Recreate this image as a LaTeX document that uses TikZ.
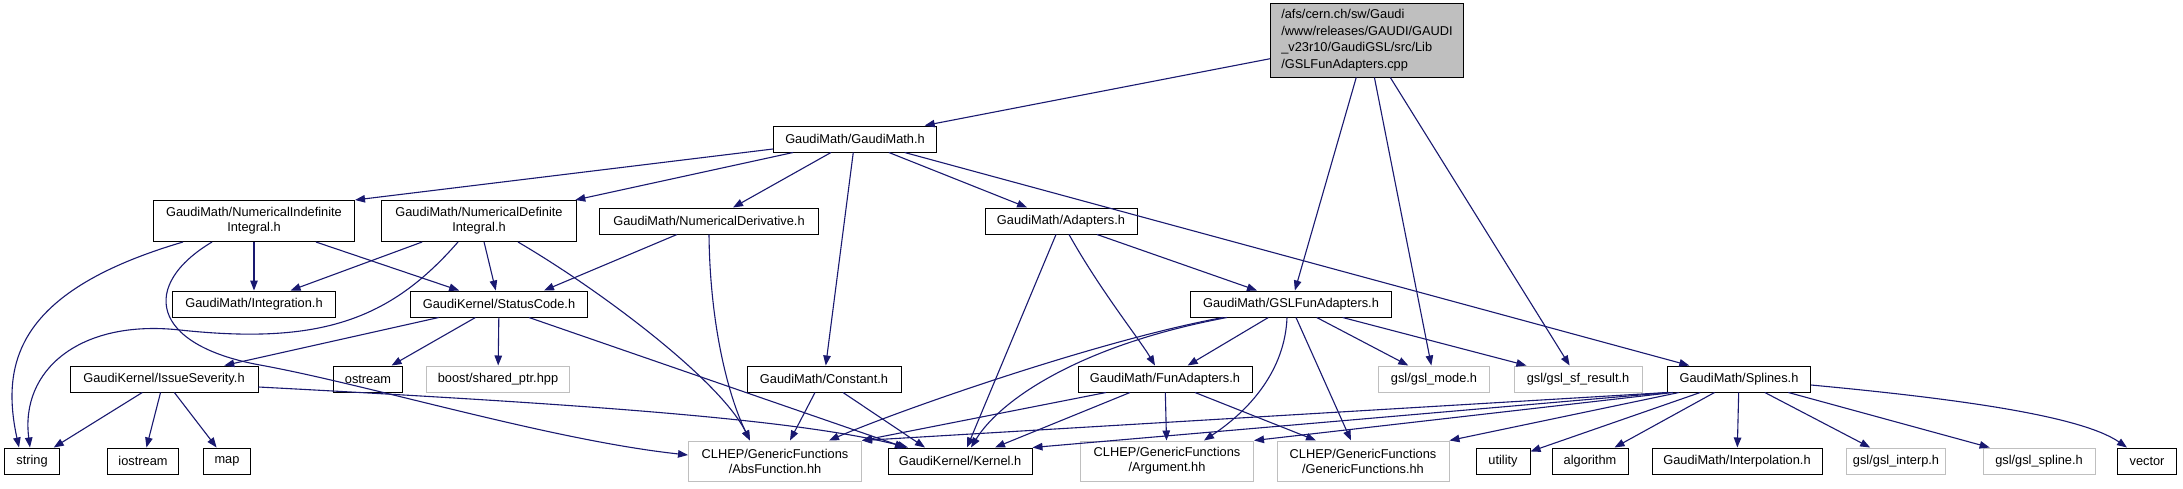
\documentclass[tikz,border=0pt]{standalone}
\usepackage{fontspec}
\setmainfont{Liberation Sans}
\usetikzlibrary{arrows.meta}
\definecolor{edgeblue}{HTML}{191970}
\definecolor{extgray}{HTML}{BFBFBF}

\begin{document}
\begin{tikzpicture}[x=1pt,y=-1pt,
  hdr/.style={draw=black,fill=white,line width=1pt,inner sep=0pt,minimum height=26pt,align=center,font=\fontsize{12.8}{15}\selectfont},
  ext/.style={hdr,draw=extgray},
  two/.style={minimum height=41pt},
  inc/.style={draw=edgeblue,line width=1.1pt,-{Triangle[length=10pt,width=7.5pt]}}]
  \path[use as bounding box,fill=white] (0,0) rectangle (2183,488);
  \node[hdr,fill=extgray,align=left,minimum width=193pt,minimum height=74pt,font=\fontsize{12.8}{16.5}\selectfont] (root) at (1367,40) {/afs/cern.ch/sw/Gaudi\\/www/releases/GAUDI/GAUDI\\\_v23r10/GaudiGSL/src/Lib\\/GSLFunAdapters.cpp};
  \node[hdr,minimum width=163pt] (gm) at (855,139) {GaudiMath/GaudiMath.h};
  \node[hdr,two,minimum width=201pt] (nii) at (254,221) {GaudiMath/NumericalIndefinite\\Integral.h};
  \node[hdr,two,minimum width=195pt] (ndi) at (479,221) {GaudiMath/NumericalDefinite\\Integral.h};
  \node[hdr,minimum width=219pt] (nder) at (709,221) {GaudiMath/NumericalDerivative.h};
  \node[hdr,minimum width=152pt] (adp) at (1061,221) {GaudiMath/Adapters.h};
  \node[hdr,minimum width=163pt] (intg) at (254,304) {GaudiMath/Integration.h};
  \node[hdr,minimum width=177pt] (stc) at (499,304) {GaudiKernel/StatusCode.h};
  \node[hdr,minimum width=201pt] (gslfa) at (1291,304) {GaudiMath/GSLFunAdapters.h};
  \node[hdr,minimum width=188pt] (iss) at (164,379) {GaudiKernel/IssueSeverity.h};
  \node[hdr,minimum width=69pt] (ostr) at (368,379) {ostream};
  \node[ext,minimum width=143pt] (boost) at (498,379) {boost/shared\_ptr.hpp};
  \node[hdr,minimum width=154pt] (const) at (824,379) {GaudiMath/Constant.h};
  \node[hdr,minimum width=174pt] (funa) at (1165,379) {GaudiMath/FunAdapters.h};
  \node[ext,minimum width=111pt] (gmode) at (1434,379) {gsl/gsl\_mode.h};
  \node[ext,minimum width=128pt] (gsfr) at (1578,379) {gsl/gsl\_sf\_result.h};
  \node[hdr,minimum width=143pt] (spl) at (1739,379) {GaudiMath/Splines.h};
  \node[hdr,minimum width=55pt] (str) at (32,461) {string};
  \node[hdr,minimum width=71pt] (iostr) at (143,461) {iostream};
  \node[hdr,minimum width=47pt] (map) at (227,461) {map};
  \node[ext,two,minimum height=40pt,minimum width=173pt] (absf) at (775,461) {CLHEP/GenericFunctions\\/AbsFunction.hh};
  \node[hdr,minimum width=144pt] (kern) at (960,461) {GaudiKernel/Kernel.h};
  \node[ext,two,minimum height=40pt,minimum width=173pt] (argm) at (1167,461) {CLHEP/GenericFunctions\\/Argument.hh};
  \node[ext,two,minimum height=40pt,minimum width=172pt] (genf) at (1363,461) {CLHEP/GenericFunctions\\/GenericFunctions.hh};
  \node[hdr,minimum width=54pt] (util) at (1503,461) {utility};
  \node[hdr,minimum width=76pt] (algo) at (1590,461) {algorithm};
  \node[hdr,minimum width=170pt] (interp) at (1737,461) {GaudiMath/Interpolation.h};
  \node[ext,minimum width=99pt] (ginterp) at (1896,461) {gsl/gsl\_interp.h};
  \node[ext,minimum width=112pt] (gspline) at (2039,461) {gsl/gsl\_spline.h};
  \node[hdr,minimum width=59pt] (vect) at (2147,461) {vector};
  \draw[inc] (root) -- (gm);
  \draw[inc] (root) -- (gslfa);
  \draw[inc] (root) -- (gmode);
  \draw[inc] (root) -- (gsfr);
  \draw[inc] (gm) -- (nii.north east);
  \draw[inc] (gm) -- (ndi);
  \draw[inc] (gm) -- (nder);
  \draw[inc] (gm) -- (const);
  \draw[inc] (gm) -- (adp);
  \draw[inc] (gm) -- (spl);
  \draw[inc] ([xshift=-71pt]nii.south) .. controls (20,290) and (0,360) .. ([xshift=-13pt]str.north);
  \draw[inc] (nii) -- (intg);
  \draw[inc] (nii) -- (stc);
  \draw[inc] ([xshift=-42pt]nii.south) .. controls (140,285) and (150,345) .. (260,365) .. controls (370,385) and (550,440) .. ([yshift=6pt]absf.west);
  \draw[inc] ([xshift=-21pt]ndi.south) .. controls (390,320) and (320,345) .. (180,330) .. controls (80,319) and (20,370) .. ([xshift=-2pt]str.north);
  \draw[inc] (ndi) -- (intg);
  \draw[inc] (ndi) -- (stc);
  \draw[inc] ([xshift=39pt]ndi.south) .. controls (600,290) and (720,380) .. ([xshift=-25pt]absf.north);
  \draw[inc] (nder) -- ([xshift=45pt]stc.north);
  \draw[inc] (nder.south) .. controls (710,330) and (730,400) .. ([xshift=-25pt]absf.north);
  \draw[inc] (stc) -- (iss);
  \draw[inc] (stc) -- (ostr);
  \draw[inc] (stc) -- (boost);
  \draw[inc] ([xshift=30pt]stc.south) -- ([xshift=-55pt]kern.north);
  \draw[inc] (iss) -- (str);
  \draw[inc] (iss) -- (iostr);
  \draw[inc] (iss) -- (map);
  \draw[inc] ([yshift=-8pt]iss.east) .. controls (600,405) and (800,420) .. ([xshift=-52pt]kern.north);
  \draw[inc] ([xshift=-9pt]const.south) -- ([xshift=15pt]absf.north);
  \draw[inc] ([xshift=19pt]const.south) -- ([xshift=-35pt]kern.north);
  \draw[inc] ([xshift=-5pt]adp.south) -- ([xshift=7pt]kern.north);
  \draw[inc] ([xshift=8pt]adp.south) .. controls (1100,290) and (1140,340) .. ([xshift=-10pt]funa.north);
  \draw[inc] ([xshift=36pt]adp.south) -- ([xshift=-34pt]gslfa.north);
  \draw[inc] ([xshift=-68pt]gslfa.south) .. controls (1100,340) and (900,410) .. ([xshift=54pt]absf.north);
  \draw[inc] ([xshift=-64pt]gslfa.south) .. controls (1080,345) and (1000,400) .. ([xshift=11pt]kern.north);
  \draw[inc] (gslfa) -- (funa);
  \draw[inc] ([xshift=-4pt]gslfa.south) .. controls (1285,370) and (1250,410) .. ([xshift=37pt]argm.north);
  \draw[inc] ([xshift=5pt]gslfa.south) -- ([xshift=-12pt]genf.north);
  \draw[inc] (gslfa) -- (gmode);
  \draw[inc] (gslfa) -- (gsfr);
  \draw[inc] ([xshift=-59pt]funa.south) -- (absf.north east);
  \draw[inc] ([xshift=-35pt]funa.south) -- ([xshift=35pt]kern.north);
  \draw[inc] (funa) -- (argm);
  \draw[inc] ([xshift=30pt]funa.south) -- ([xshift=-47pt]genf.north);
  \draw[inc] ([xshift=2pt]spl.south west) -- (kern.north east);
  \draw[inc] (spl.south west) -- (absf.north east);
  \draw[inc] ([xshift=6pt]spl.south west) -- (argm.north east);
  \draw[inc] ([xshift=12pt]spl.south west) -- (genf.north east);
  \draw[inc] (spl) -- (util);
  \draw[inc] (spl) -- (algo);
  \draw[inc] (spl) -- (interp);
  \draw[inc] (spl) -- (ginterp);
  \draw[inc] (spl) -- (gspline);
  \draw[inc] ([yshift=-6pt]spl.east) .. controls (1950,398) and (2080,415) .. ([xshift=-20pt]vect.north);
\end{tikzpicture}
\end{document}
